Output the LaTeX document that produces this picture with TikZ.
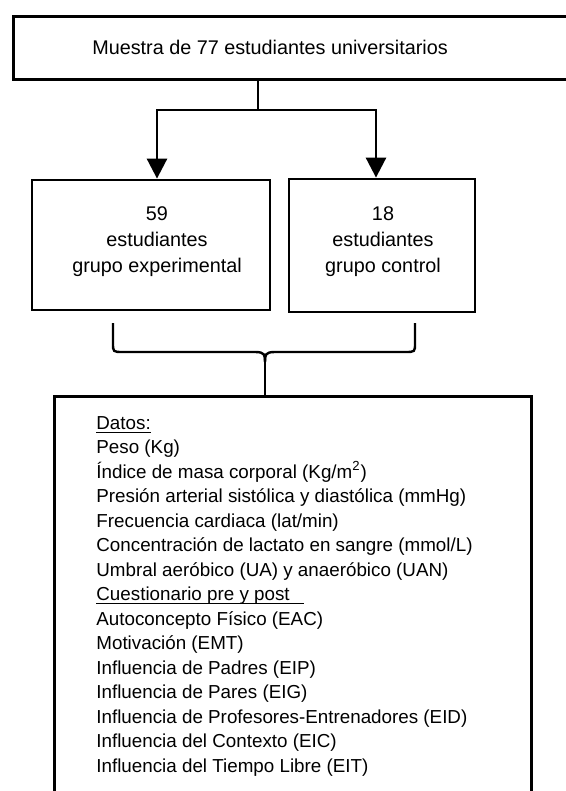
\documentclass[tikz,border=0pt]{standalone}
\usepackage{fontspec}
\setmainfont{Liberation Sans}
\usetikzlibrary{arrows.meta}
\newcommand{\subrayado}[2][0pt]{\setbox0\hbox{#2\hspace*{#1}}\rlap{\rule[-1.6pt]{\wd0}{0.5pt}}\box0}

\begin{document}
\begin{tikzpicture}[x=0.5pt,y=-0.5pt,
  box/.style={draw,line width=1.4pt,inner sep=0pt},
  linea/.style={line width=1.4pt},
  flecha/.style={line width=1.4pt,-{Triangle[length=10pt,width=10pt]}},
  font=\fontsize{9.9}{13}\selectfont]
  \useasboundingbox (0,0) rectangle (566,791);

  % Muestra (box runs off the right edge)
  \node[box,anchor=north west,minimum width=294pt,minimum height=31.5pt] (muestra) at (12,15) {};
  \node (muestratxt) at (270,47) {Muestra de 77 estudiantes universitarios};

  % Grupo experimental
  \node[box,minimum width=119pt,minimum height=65pt] (exp) at (151,245) {};
  \node[align=center] (exptxt) at (157,241.5) {59\\estudiantes\\grupo experimental};

  % Grupo control
  \node[box,minimum width=93pt,minimum height=66.5pt] (ctrl) at (382,245.5) {};
  \node[align=center] (ctrltxt) at (383,241.5) {18\\estudiantes\\grupo control};

  % Reparto en dos grupos
  \coordinate (split) at (258,110);
  \coordinate (jl) at (157,110);
  \coordinate (jr) at (376,110);
  \draw[linea] (muestra.south -| split) -- (split);
  \draw[linea,line cap=rect] (jl) -- (jr);
  \draw[flecha] (jl) -- (jl |- exp.north);
  \draw[flecha] (jr) -- (jr |- ctrl.north);

  % Datos (box runs off the bottom edge)
  \node[box,anchor=north west,minimum width=238.5pt,minimum height=230pt] (datos) at (53,395) {};
  \node[anchor=north west,align=left,inner sep=0pt,
        font=\fontsize{9.4}{12.25}\selectfont] (datostxt) at (96,416)
    {\subrayado{Datos:}\\
     Peso (Kg)\\
     Índice de masa corporal (Kg/m\textsuperscript{2})\\
     Presión arterial sistólica y diastólica (mmHg)\\
     Frecuencia cardiaca (lat/min)\\
     Concentración de lactato en sangre (mmol/L)\\
     Umbral aeróbico (UA) y anaeróbico (UAN)\\
     \subrayado[7pt]{Cuestionario pre y post}\\
     Autoconcepto Físico (EAC)\\
     Motivación (EMT)\\
     Influencia de Padres (EIP)\\
     Influencia de Pares (EIG)\\
     Influencia de Profesores-Entrenadores (EID)\\
     Influencia del Contexto (EIC)\\
     Influencia del Tiempo Libre (EIT)};

  % Llave que une los grupos
  \coordinate (llaveL) at (113,323);
  \coordinate (llaveR) at (415,323);
  \coordinate (llaveT) at (265,362);
  \draw[line width=1.2pt] (llaveL) -- (113,343) .. controls (113,352) .. (123,352)
    -- (255,352) .. controls (265,352) and (265,355) .. (llaveT);
  \draw[line width=1.2pt] (llaveR) -- (415,343) .. controls (415,352) .. (405,352)
    -- (275,352) .. controls (265,352) and (265,355) .. (llaveT);
  \draw[linea] (llaveT) -- (llaveT |- datos.north);
\end{tikzpicture}
\end{document}
